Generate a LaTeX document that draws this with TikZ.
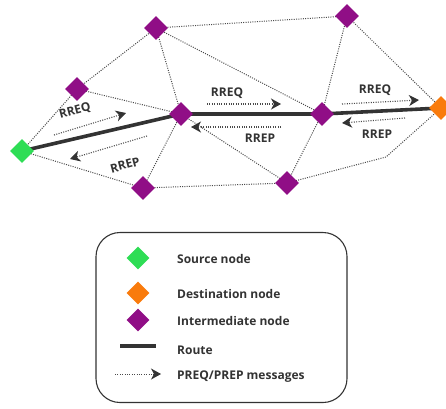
\documentclass[tikz,border=0pt]{standalone}
\usepackage{fontspec}
\setmainfont{Open Sans}
\usetikzlibrary{shapes.geometric,arrows.meta}
\definecolor{srcgreen}{HTML}{2EDD55}
\definecolor{dstorange}{HTML}{F97B0C}
\definecolor{midpurple}{HTML}{900E86}
\definecolor{ink}{HTML}{333333}
\definecolor{dotgray}{HTML}{4A4A4A}
\begin{document}
\begin{tikzpicture}[x=1pt,y=-1pt,
  dia/.style={diamond, minimum size=24pt, inner sep=0pt, draw=none},
  src/.style={dia, fill=srcgreen},
  dst/.style={dia, fill=dstorange},
  mid/.style={dia, fill=midpurple},
  link/.style={draw=dotgray, line width=1pt, dash pattern=on 1pt off 1.3pt},
  route/.style={draw=ink, line width=3.6pt},
  msg/.style={draw=dotgray, line width=1.1pt, dash pattern=on 1pt off 1.4pt, -{Stealth[length=10pt,width=11pt,inset=3pt,color=ink,fill=ink]}},
  lbl/.style={text=ink, font=\fontsize{12}{14}\selectfont\bfseries, inner sep=0pt},
  lgd/.style={text=ink, font=\fontsize{12}{14}\selectfont\bfseries, inner sep=0pt, anchor=west}
]
\useasboundingbox (0,0) rectangle (446,408);

% node positions
\coordinate (pS) at (22,151);
\coordinate (pA) at (77,89);
\coordinate (pB) at (156,28);
\coordinate (pC) at (181,114);
\coordinate (pD) at (143,188);
\coordinate (pE) at (322,114);
\coordinate (pF) at (347,16);
\coordinate (pG) at (287,183);
\coordinate (pT) at (441,108);
\coordinate (bend) at (386,157);

% dotted links
\draw[link] (pS) -- (pA);
\draw[link] (pA) -- (pB);
\draw[link] (pA) -- (pC);
\draw[link] (pB) -- (pC);
\draw[link] (pS) -- (pD);
\draw[link] (pC) -- (pD);
\draw[link] (pB) -- (pF);
\draw[link] (pB) -- (pE);
\draw[link] (pD) -- (pG);
\draw[link] (pC) -- (pG);
\draw[link] (pE) -- (pG);
\draw[link] (pE) -- (pF);
\draw[link] (pF) -- (pT);
\draw[link] (pG) -- (bend) -- (pT);

% route
\draw[route] (pS) -- (pC);
\draw[route] (pC) -- (pE);
\draw[route] (pE) -- (pT);

% nodes
\node[src] (S) at (pS) {};
\node[mid] (A) at (pA) {};
\node[mid] (B) at (pB) {};
\node[mid] (C) at (pC) {};
\node[mid] (D) at (pD) {};
\node[mid] (E) at (pE) {};
\node[mid] (F) at (pF) {};
\node[mid] (G) at (pG) {};
\node[dst] (T) at (pT) {};

% messages S-C
\coordinate (m1a) at (54,135); \coordinate (m1b) at (126,113);
\draw[msg] (m1a) -- (m1b);
\node[lbl, rotate=15] (l1) at (75,111) {RREQ};
\coordinate (m2a) at (147,136); \coordinate (m2b) at (70,159);
\draw[msg] (m2a) -- (m2b);
\node[lbl, rotate=15] (l2) at (125,165) {RREP};

% messages C-E
\coordinate (m3a) at (207,104); \coordinate (m3b) at (281,104);
\draw[msg] (m3a) -- (m3b);
\node[lbl] (l3) at (227,93) {RREQ};
\coordinate (m4a) at (281,127); \coordinate (m4b) at (191,127);
\draw[msg] (m4a) -- (m4b);
\node[lbl] (l4) at (260,138) {RREP};

% messages E-T
\coordinate (m5a) at (342,104); \coordinate (m5b) at (419,100);
\draw[msg] (m5a) -- (m5b);
\node[lbl] (l5) at (375,90) {RREQ};
\coordinate (m6a) at (405,118); \coordinate (m6b) at (342,123);
\draw[msg] (m6a) -- (m6b);
\node[lbl] (l6) at (377,134) {RREP};

% legend
\node[draw=ink, line width=1.1pt, rounded corners=24pt, minimum width=251pt, minimum height=170pt] (legend) at (221.5,317.5) {};
\node[src, minimum size=23pt] (k1) at (138,258) {};
\node[lgd] (t1) at (177,259) {Source node};
\node[dst, minimum size=23pt] (k2) at (138,293) {};
\node[lgd] (t2) at (177,294) {Destination node};
\node[mid, minimum size=23pt] (k3) at (138,320) {};
\node[lgd] (t3) at (177,321) {Intermediate node};
\coordinate (k4a) at (120,346); \coordinate (k4b) at (156,346);
\draw[route, line width=3.4pt] (k4a) -- (k4b);
\node[lgd] (t4) at (177,350) {Route};
\coordinate (k5a) at (115,374); \coordinate (k5b) at (161,374);
\draw[msg, line width=0.9pt] (k5a) -- (k5b);
\node[lgd] (t5) at (177,377) {PREQ/PREP messages};
\end{tikzpicture}
\end{document}
